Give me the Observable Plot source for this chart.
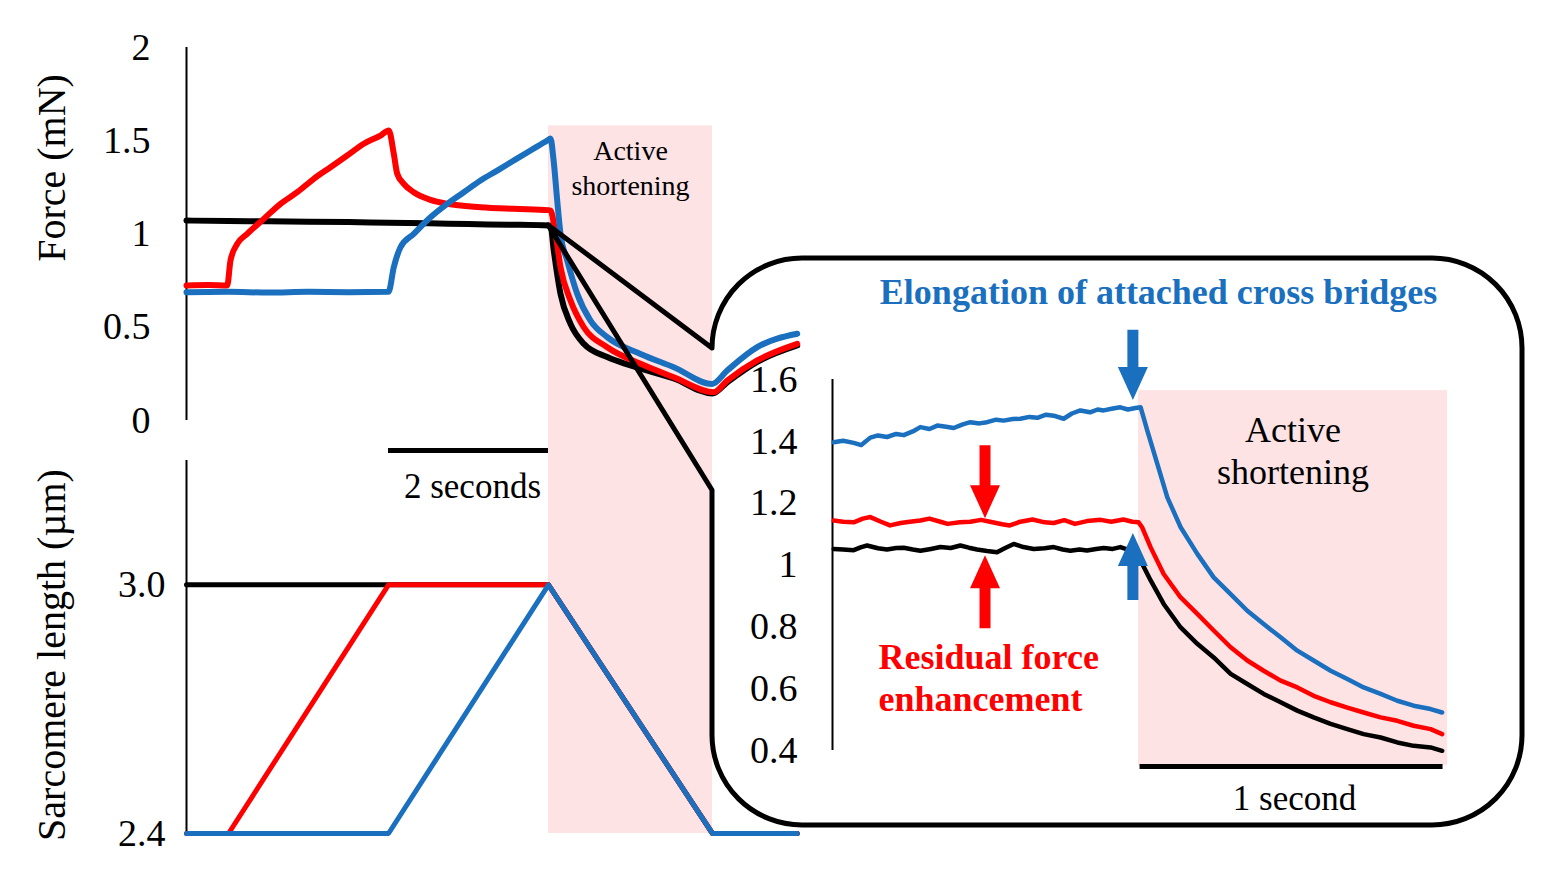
<!DOCTYPE html>
<html><head><meta charset="utf-8">
<script src="https://cdn.jsdelivr.net/npm/d3@7"></script>
<script src="https://cdn.jsdelivr.net/npm/@observablehq/plot@0.6"></script>
<style>
body{margin:0;background:#fff;}
#fig{position:relative;width:1559px;height:885px;overflow:hidden;background:#fff;}
#fig svg{position:absolute;left:0;top:0;overflow:visible;}
</style></head><body><div id="fig"></div>
<script>
const W = 1559, H = 885;
const FONT = '"Liberation Serif","Times New Roman",Times,serif';
const RED = "#ff0000", BLUE = "#1a6fbf", BLACK = "#000000", PINK = "#fde3e4";

// ---- protocol timing (s) ----
const shortening = [4.5, 6.55];
const stretchRed = [0.5, 2.5];
const stretchBlue = [2.5, 4.5];
const scaleBar = [2.5, 4.5];

// ---- main force traces [time s, force mN] ----
const forceTicks = [0, 0.5, 1, 1.5, 2];
const forceBlack = [[-0.025,1.072],[0.5,1.070],[1.0,1.068],[1.5,1.066],[2.0,1.064],[2.5,1.060],[3.0,1.057],[3.5,1.053],[4.0,1.050],[4.5,1.046],[4.525,1.045],[4.566,0.911],[4.65,0.679],[4.775,0.518],[4.941,0.411],[5.234,0.340],[5.525,0.295],[6.066,0.225],[6.55,0.145],[6.734,0.205],[7.109,0.314],[7.609,0.402]];
const forceRed = [[-0.025,0.724],[0.25,0.726],[0.484,0.724],[0.525,0.858],[0.609,0.947],[0.734,1.001],[0.941,1.081],[1.15,1.162],[1.359,1.224],[1.566,1.296],[1.775,1.358],[1.984,1.421],[2.191,1.484],[2.4,1.528],[2.504,1.555],[2.566,1.430],[2.609,1.323],[2.691,1.269],[2.816,1.224],[3.025,1.183],[3.234,1.162],[3.65,1.144],[4.066,1.135],[4.5,1.128],[4.525,1.126],[4.5875,1.001],[4.65,0.822],[4.775,0.643],[4.941,0.500],[5.234,0.393],[5.65,0.304],[6.066,0.232],[6.566,0.152],[6.734,0.214],[7.109,0.322],[7.609,0.411]];
const forceBlue = [[-0.025,0.688],[0.5,0.690],[1.0,0.686],[1.5,0.690],[2.0,0.688],[2.5,0.690],[2.566,0.822],[2.65,0.929],[2.816,1.001],[3.025,1.090],[3.234,1.162],[3.441,1.224],[3.65,1.287],[3.859,1.340],[4.066,1.394],[4.275,1.448],[4.484,1.501],[4.525,1.512],[4.5625,1.400],[4.609,1.180],[4.65,1.001],[4.734,0.858],[4.859,0.679],[5.025,0.536],[5.234,0.447],[5.65,0.357],[6.066,0.286],[6.546,0.196],[6.734,0.268],[7.109,0.393],[7.609,0.465]];

// ---- sarcomere length [time s, µm] ----
const slTicks = [2.4, 3.0];
const slBlack = [[-0.025,3.0],[4.5,3.0],[6.55,2.4],[7.609,2.4]];
const slRed = [[-0.025,2.4],[0.5,2.4],[2.5,3.0],[4.5,3.0],[6.55,2.4],[7.609,2.4]];
const slBlue = [[-0.025,2.4],[2.5,2.4],[4.5,3.0],[6.55,2.4],[7.609,2.4]];

// ---- inset force traces [time s, force mN] ----
const insetTicks = [0.4, 0.6, 0.8, 1, 1.2, 1.4, 1.6];
const insetShortening = [1.01, 2.03];
const insetScaleBar = [1.015, 2.015];
const insetBlue = [[0.004,1.397],[0.035,1.402],[0.07,1.395],[0.095,1.388],[0.125,1.412],[0.15,1.419],[0.18,1.414],[0.21,1.424],[0.235,1.420],[0.265,1.432],[0.29,1.446],[0.32,1.440],[0.346,1.451],[0.375,1.447],[0.4,1.443],[0.43,1.455],[0.455,1.462],[0.485,1.458],[0.51,1.462],[0.54,1.470],[0.565,1.467],[0.595,1.472],[0.62,1.473],[0.65,1.479],[0.676,1.476],[0.705,1.486],[0.73,1.483],[0.763,1.473],[0.79,1.490],[0.818,1.500],[0.85,1.494],[0.875,1.503],[0.895,1.500],[0.925,1.506],[0.95,1.510],[0.975,1.503],[1.0,1.508],[1.017,1.510],[1.039,1.435],[1.072,1.327],[1.105,1.219],[1.149,1.122],[1.204,1.036],[1.258,0.960],[1.314,0.906],[1.369,0.852],[1.423,0.809],[1.479,0.766],[1.534,0.723],[1.588,0.691],[1.644,0.658],[1.699,0.631],[1.753,0.604],[1.809,0.583],[1.864,0.561],[1.918,0.545],[1.974,0.534],[2.012,0.523]];
const insetRed = [[0.004,1.144],[0.035,1.140],[0.07,1.138],[0.1,1.150],[0.125,1.155],[0.16,1.140],[0.19,1.128],[0.225,1.136],[0.255,1.140],[0.29,1.144],[0.32,1.150],[0.356,1.140],[0.38,1.133],[0.42,1.138],[0.455,1.140],[0.49,1.146],[0.52,1.140],[0.56,1.132],[0.585,1.128],[0.62,1.140],[0.66,1.147],[0.7,1.138],[0.73,1.136],[0.765,1.145],[0.8,1.133],[0.84,1.142],[0.885,1.146],[0.92,1.140],[0.96,1.147],[0.99,1.140],[1.01,1.138],[1.022,1.122],[1.05,1.057],[1.093,0.971],[1.149,0.895],[1.204,0.842],[1.258,0.788],[1.314,0.734],[1.369,0.691],[1.423,0.658],[1.479,0.626],[1.534,0.604],[1.588,0.577],[1.644,0.556],[1.699,0.539],[1.753,0.523],[1.809,0.507],[1.864,0.496],[1.918,0.480],[1.974,0.469],[2.012,0.453]];
const insetBlack = [[0.004,1.052],[0.035,1.050],[0.07,1.048],[0.095,1.058],[0.114,1.063],[0.15,1.054],[0.18,1.050],[0.21,1.055],[0.235,1.056],[0.265,1.050],[0.29,1.046],[0.325,1.052],[0.356,1.058],[0.39,1.055],[0.422,1.063],[0.45,1.056],[0.477,1.050],[0.51,1.045],[0.543,1.041],[0.57,1.055],[0.598,1.068],[0.63,1.058],[0.664,1.052],[0.7,1.054],[0.73,1.058],[0.76,1.050],[0.785,1.046],[0.815,1.050],[0.84,1.047],[0.87,1.052],[0.895,1.055],[0.925,1.052],[0.95,1.058],[0.975,1.050],[0.994,1.050],[1.017,1.014],[1.05,0.950],[1.093,0.874],[1.149,0.798],[1.204,0.745],[1.258,0.701],[1.314,0.648],[1.369,0.615],[1.423,0.583],[1.479,0.556],[1.534,0.529],[1.588,0.507],[1.644,0.486],[1.699,0.469],[1.753,0.453],[1.809,0.442],[1.864,0.426],[1.918,0.415],[1.974,0.410],[2.012,0.399]];

// ---- inset annotation arrows (inset data units) ----
const arrows = [
  {x: 0.993, tail: 1.759, tip: 1.532, color: BLUE},
  {x: 0.993, tail: 0.885, tip: 1.102, color: BLUE},
  {x: 0.505, tail: 1.386, tip: 1.150, color: RED},
  {x: 0.505, tail: 0.794, tip: 1.030, color: RED}
];
// callout apex (main data units): start of shortening
const calloutApex = {t: 4.5, f: 1.046};

const X = d => d[0], Y = d => d[1];
const fig = document.getElementById("fig");
const baseStyle = {background: "transparent", fontFamily: FONT, fontSize: "38px", color: "#000", overflow: "visible"};

// ---- sarcomere length panel ----
const sp = Plot.plot({
  width: W, height: H, marginLeft: 186, marginRight: W - 798, marginTop: 460, marginBottom: H - 833,
  style: baseStyle,
  x: {domain: [-0.025, 7.625], axis: null},
  y: {domain: [2.4, 3.3], ticks: slTicks, tickSize: 0, tickPadding: 21, tickFormat: d3.format(".1f"), label: null},
  marks: [
    Plot.rect([shortening], {x1: d => d[0], x2: d => d[1], y1: 2.4, y2: 3.4, fill: PINK}),
    Plot.ruleX([-0.025], {stroke: "#000", strokeWidth: 2}),
    Plot.line(slBlack, {x: X, y: Y, stroke: BLACK, strokeWidth: 5}),
    Plot.line(slRed, {x: X, y: Y, stroke: RED, strokeWidth: 5}),
    Plot.line(slBlue, {x: X, y: Y, stroke: BLUE, strokeWidth: 5}),
    Plot.text(["Sarcomere length (µm)"], {text: d => d, frameAnchor: "left", textAnchor: "middle", rotate: -90, dx: -134, dy: 8, fontSize: 40, fontFamily: FONT})
  ]
});
fig.appendChild(sp);

// ---- force panel ----
const fp = Plot.plot({
  width: W, height: H, marginLeft: 186, marginRight: W - 798, marginTop: 47, marginBottom: H - 420,
  style: baseStyle,
  x: {domain: [-0.025, 7.625], axis: null},
  y: {domain: [0, 2], ticks: forceTicks, tickSize: 0, tickPadding: 36, tickFormat: d => String(d), label: null},
  marks: [
    Plot.rect([shortening], {x1: d => d[0], x2: d => d[1], y1: 0, y2: 1.58, fill: PINK}),
    Plot.ruleX([-0.025], {stroke: "#000", strokeWidth: 2}),
    Plot.line(forceBlack, {x: X, y: Y, stroke: BLACK, strokeWidth: 6, curve: "monotone-x"}),
    Plot.line(forceRed, {x: X, y: Y, stroke: RED, strokeWidth: 6, curve: "monotone-x"}),
    Plot.line(forceBlue, {x: X, y: Y, stroke: BLUE, strokeWidth: 6, curve: "monotone-x"}),
    Plot.ruleY([0], {x1: scaleBar[0], x2: scaleBar[1], dy: 30, stroke: "#000", strokeWidth: 5}),
    Plot.text(["2 seconds"], {text: d => d, x: (scaleBar[0] + scaleBar[1]) / 2, y: 0, dy: 66, dx: 4, fontSize: 35, fontFamily: FONT}),
    Plot.text(["Active\nshortening"], {text: d => d, x: (shortening[0] + shortening[1]) / 2, y: 1.365, fontSize: 28, lineHeight: 1.25, fontFamily: FONT}),
    Plot.text(["Force (mN)"], {text: d => d, frameAnchor: "left", textAnchor: "middle", rotate: -90, dx: -134, dy: -66, fontSize: 40, fontFamily: FONT})
  ]
});
fig.appendChild(fp);

// ---- inset ----
const ip = Plot.plot({
  width: W, height: H, marginLeft: 832, marginRight: W - 1438, marginTop: 379, marginBottom: H - 750,
  style: baseStyle,
  x: {domain: [0, 2], axis: null},
  y: {domain: [0.4, 1.6], ticks: insetTicks, tickSize: 0, tickPadding: 35, tickFormat: d => String(d), label: null},
  marks: [
    Plot.rect([insetShortening], {x1: d => d[0], x2: d => d[1], y1: 0.351, y2: 1.564, fill: PINK}),
    Plot.ruleX([0], {stroke: "#000", strokeWidth: 2}),
    Plot.line(insetBlack, {x: X, y: Y, stroke: BLACK, strokeWidth: 4.5}),
    Plot.line(insetRed, {x: X, y: Y, stroke: RED, strokeWidth: 4.5}),
    Plot.line(insetBlue, {x: X, y: Y, stroke: BLUE, strokeWidth: 4.5}),
    Plot.ruleY([0.4], {x1: insetScaleBar[0], x2: insetScaleBar[1], dy: 16, stroke: "#000", strokeWidth: 5}),
    Plot.text(["1 second"], {text: d => d, x: (insetScaleBar[0] + insetScaleBar[1]) / 2, y: 0.4, dy: 48, dx: 3, fontSize: 35, fontFamily: FONT}),
    Plot.text(["Active\nshortening"], {text: d => d, x: (insetShortening[0] + insetShortening[1]) / 2, y: 1.373, fontSize: 36, lineHeight: 1.17, fontFamily: FONT}),
    Plot.text(["Elongation of attached cross bridges"], {text: d => d, x: 1.076, y: 1.882, fontSize: 36, fontWeight: "bold", fill: BLUE, fontFamily: FONT}),
    Plot.text(["Residual force\nenhancement"], {text: d => d, x: 0.152, y: 0.639, textAnchor: "start", fontSize: 36, lineHeight: 1.17, fontWeight: "bold", fill: RED, fontFamily: FONT})
  ]
});
fig.appendChild(ip);

// ---- overlay: callout box and block arrows ----
const fx = fp.scale("x"), fy = fp.scale("y");
const ix = ip.scale("x"), iy = ip.scale("y");
const ax = fx.apply(calloutApex.t), ay = fy.apply(calloutApex.f);
const box = {l: 712, r: 1522, t: 258, b: 825, rad: 90, join: 490};
const ov = d3.create("svg").attr("width", W).attr("height", H).attr("viewBox", `0 0 ${W} ${H}`);
const p = d3.path();
p.moveTo(box.l, box.join);
p.lineTo(box.l, box.b - box.rad);
p.arcTo(box.l, box.b, box.l + box.rad, box.b, box.rad);
p.lineTo(box.r - box.rad, box.b);
p.arcTo(box.r, box.b, box.r, box.b - box.rad, box.rad);
p.lineTo(box.r, box.t + box.rad);
p.arcTo(box.r, box.t, box.r - box.rad, box.t, box.rad);
p.lineTo(box.l + box.rad, box.t);
p.arcTo(box.l, box.t, box.l, box.t + box.rad, box.rad);
p.lineTo(ax, ay);
p.closePath();
ov.append("path").attr("d", p.toString()).attr("fill", "none").attr("stroke", "#000").attr("stroke-width", 5).attr("stroke-linejoin", "round");

for (const a of arrows) {
  const x = ix.apply(a.x), tail = iy.apply(a.tail), tip = iy.apply(a.tip);
  const s = tip > tail ? 1 : -1;
  const hb = tip - s * 33, sw = 5.5, hw = 15;
  const pts = [[x - sw, tail], [x - sw, hb], [x - hw, hb], [x, tip], [x + hw, hb], [x + sw, hb], [x + sw, tail]];
  ov.append("polygon").attr("points", pts.map(q => q.join(",")).join(" ")).attr("fill", a.color);
}
fig.appendChild(ov.node());
</script></body></html>
